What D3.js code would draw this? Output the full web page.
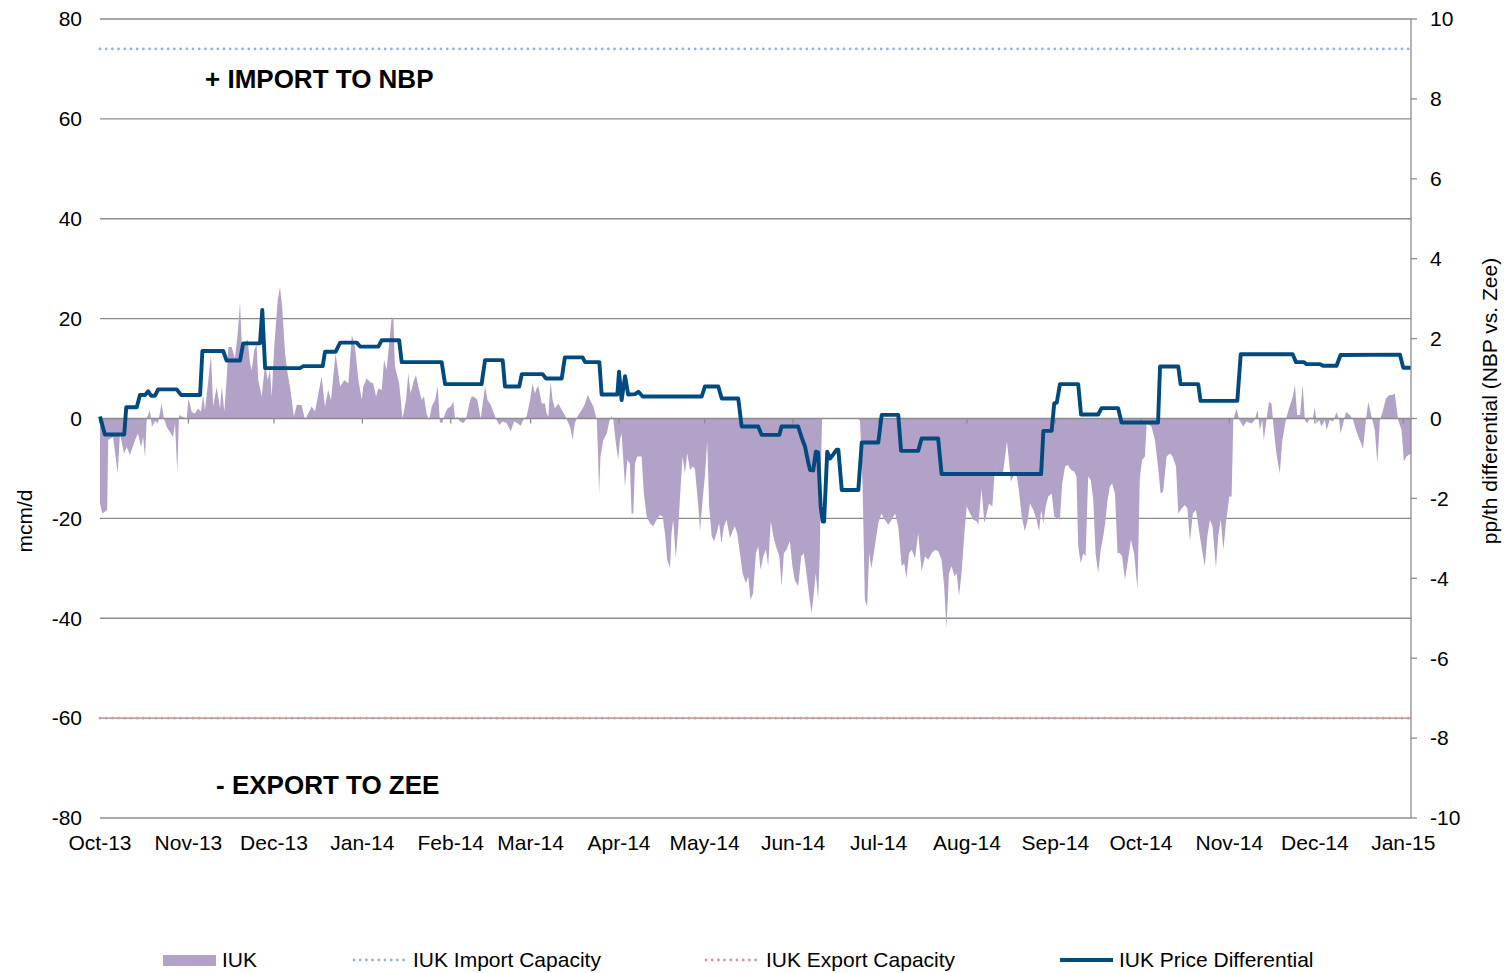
<!DOCTYPE html>
<html>
<head>
<meta charset="utf-8">
<script src="https://cdnjs.cloudflare.com/ajax/libs/d3/7.8.5/d3.min.js"></script>
<style>
  body { margin: 0; background: #fff; }
  svg { display: block; font-family: "Liberation Sans", Arial, sans-serif; }
</style>
</head>
<body>
<svg width="1506" height="973"></svg>
<script>
// days counted from 1 Oct 2013
const startDate = Date.UTC(2013, 9, 1);
const lastDay = 459.7;

const mcmTicks = [-80, -60, -40, -20, 0, 20, 40, 60, 80];
const penceTicks = [-10, -8, -6, -4, -2, 0, 2, 4, 6, 8, 10];

const importCapacity = 74;
const exportCapacity = -60;

// IUK flow, mcm/d: [day, value]
const flowPoints = [
  [0,-17],[0.8,-19],[2.5,-18.3],[2.9,-4.3],[4.6,-3.7],[6.2,-11],[7,-3],[8.4,-7],[9.4,-5.7],[10.5,-7.3],
  [12.3,-4.3],[13.3,-3],[14.4,-5.7],[15.1,-3.7],[15.8,-7.7],[16.4,0],[17.5,1.7],[18.2,-1.7],[19.3,-0.5],[20.3,-1],
  [21.6,3],[22.4,0],[23.4,-1.7],[24.5,-2.7],[25.6,-3.7],[26.3,-1],[27.1,-10.7],[27.7,0.7],[28.6,0.4],[30.4,0],
  [31,4],[32.2,1.3],[33.3,1],[34.4,2],[35.4,1.4],[36.2,4.7],[36.8,1.7],[38,7.7],[38.9,12.7],[39.7,2.4],
  [40.9,6.3],[42.1,2],[42.7,6.3],[43.6,1.4],[44.4,7.7],[45,14.3],[46.2,14.3],[47.3,12],[48.3,17],[49.1,23.3],
  [49.7,15],[50.8,15.3],[51.8,15.7],[52.6,11],[53.2,9.7],[54.1,13.7],[54.9,14.7],[55.5,7.7],[56.7,4.4],[57.9,11],
  [58.8,7.7],[59.6,9.7],[60.2,4.4],[61.1,14.3],[62.3,23.7],[63.1,26.3],[63.9,22.3],[64.9,13],[65.8,9],[66.6,6.4],
  [68,0.4],[69,2.7],[70.7,2.7],[71.9,-0.3],[74.2,2.4],[75.4,1.4],[77.7,8.4],[78.9,2.4],[80,5.7],[81,3.7],
  [82.6,13],[84.2,6.4],[85.7,7.7],[87.1,7],[88.3,16.7],[89.4,14.4],[90.6,7.7],[91.8,3.7],
  [92.3,6.4],[93.5,8],[94.7,7.3],[95.8,7],[96.8,4.4],[97.6,6],[98.8,5.7],[99.6,11.7],[100.5,9.7],[101.5,15.7],
  [102.3,20.4],[102.9,19.7],[103.4,10.4],[104.3,8.4],[104.9,7],[106.1,0],[107.3,3.7],[108.1,9],[108.9,5],[109.9,7.3],
  [110.8,8.7],[111.6,6.4],[112.8,3.7],[113.6,4.4],[114.5,1],[115.4,-0.4],[116.3,2.4],[117.5,3.7],[118.4,6.5],[119.2,-0.8],
  [120,-0.9],[121,1],[121.8,2],[123,2.4],[123.9,3.4],[124.5,-0.2],[125.3,0.4],[126.2,-0.6],[127.4,-0.9],[128.3,-0.2],
  [129.5,3],[130.3,4.4],[131.5,4.2],[132.3,3.7],[133.5,0],[135,6.4],[135.9,3.7],[137,2.7],[137.9,1.4],[138.8,0],
  [140,-1.3],[141.2,-0.6],[142.6,-0.9],[144,-2.6],[145.2,-0.6],[146.3,-0.9],[147.5,-1.5],[148.4,-0.3],[149.6,0.4],[150.8,3.7],
  [151.7,7],[152.5,5],[153.1,6],[153.7,6.5],[154.9,3],[156,3],[156.6,1],[157.2,0.4],[158,7.3],[158.7,3.7],
  [159.5,2],[160.7,3],[161.9,1.7],[163,0.7],[164.2,-0.9],[165,-2],[165.7,-4.3],[166.5,-0.9],[167.7,0.7],[168.9,1.7],
  [170.1,3],[171,4.7],[172.1,3.4],[173,2.4],[174.2,-0.3],[174.7,-8.3],[175,-15],[175.5,-7.6],[176.5,-4.3],[177.7,-3],
  [178.6,-0.6],[179.4,0.5],[180,-0.3],[180.9,-5],[181.7,-8.3],
  [182.3,-4.3],[182.9,-3],[184.1,-13.6],[184.9,-8.3],[185.8,-9],[186.4,-19],[187,-19],[187.6,-9],[188.4,-7.6],[189.9,-7.6],
  [190.7,-15],[191.7,-19.6],[192.8,-21],[194,-21.6],[195.2,-20.3],[196.3,-19.3],[197.3,-19.6],[198.1,-23],[198.9,-28.3],[199.9,-30],
  [200.4,-23],[201,-20.3],[201.9,-28],[202.8,-21.6],[203.6,-13.6],[204.3,-7.6],[205.1,-11],[205.9,-7],[206.9,-10.3],[207.8,-9.6],
  [208.6,-10],[209.8,-17.6],[210.4,-22.6],[211.3,-16.3],[212.1,-11.6],[212.9,-4.6],[213.6,-17.6],[214.5,-23.6],[215.3,-24.6],[216.2,-23],
  [217.1,-21],[217.9,-25],[218.8,-21.6],[219.7,-20.3],[220.9,-24],[221.8,-22.6],[222.6,-21.6],[223.4,-23],[224.4,-27],[225.3,-31],
  [226.5,-33],[227.3,-31.6],[228.1,-36.3],[229,-35],[230,-27],[230.8,-25.6],[231.6,-30.3],[232.6,-27.6],[233.5,-26.3],[234.3,-29.6],
  [235.2,-20.6],[236.1,-23.6],[237,-25.6],[238.2,-27.6],[239,-33.6],[239.8,-27],[240.7,-26.3],[241.9,-24.6],[242.8,-29.6],[243.6,-32.3],
  [244.8,-33.6],[245.9,-27.6],[246.8,-27],[247.7,-31],[248.7,-35.6],[249.5,-39],[250.3,-35],[251,-31],[251.8,-36.3],[252.4,-27],
  [252.8,-10],[253.2,0],[266,0],[266.5,-0.5],[267.4,-13.6],[268.2,-36.3],[269,-37.6],[269.7,-27],[270.5,-30],[271.7,-25.6],
  [272.9,-21],[274,-19],
  [275.2,-20.3],[276.4,-21.3],[277.6,-20.3],[278.8,-19],[279.9,-21.6],[281.1,-29.6],[282,-29],[282.8,-32],[283.7,-27],[284.6,-26.3],
  [285.8,-28],[286.9,-23],[288.1,-30.6],[289.3,-27.6],[290.4,-28.3],[291.6,-27],[292.8,-26.3],[293.9,-26.6],[295.1,-28.3],[296,-33.6],
  [296.8,-42],[297.7,-31],[298.6,-29.6],[299.6,-31.6],[300.4,-31],[301.2,-35.6],[302.1,-31],[303.1,-23],[303.9,-17.6],[305.1,-19],
  [306.2,-20.3],[307.4,-20.6],[308,-21.3],[309.1,-14],[310.1,-21],[310.9,-19],[311.7,-17],[312.9,-17.6],[313.6,-11.6],[314.4,-10.6],
  [315.6,-11],[316.7,-10.6],[317.6,-6.6],[318,-4.6],[318.7,-8.3],[319.4,-12.6],[320.2,-11.6],[321.4,-11.3],[322.2,-14.3],[323.2,-19.6],
  [324.3,-22.6],[325.3,-20.3],[326.1,-17],[327.3,-18.3],[328.4,-20.3],[329.3,-22.6],[330,-18.3],[330.8,-21],[331.6,-17.6],[332.5,-15.6],
  [333.7,-15],[334.6,-19.6],[335.8,-20],[336.6,-20.3],[337.4,-13],[338.4,-9.6],[339.3,-9.3],[340.5,-10.3],[341.6,-10.6],[342.4,-11.6],
  [343,-25.6],[343.9,-29],[344.8,-27],[345.6,-27.6],[346.5,-11.6],[347.4,-12.3],[348.3,-16.3],[349.1,-27],[350,-31],[350.9,-26.3],
  [351.8,-23.6],[352.6,-20.3],[353.3,-16.3],[354.1,-13.6],[354.9,-13],[355.9,-15],[356.8,-27],[357.6,-27],[358.4,-27.6],[359.4,-32.3],
  [360.3,-29],[361.5,-24.3],[362.6,-27],[363.8,-34.3],[364.6,-12],[365.4,-8.3],[366.4,-7.6],[367,-1],[368.7,-1.6],[369.9,-4.3],
  [371,-9.6],[371.9,-15],[372.8,-14.6],[374,-7.6],[375.2,-7],[376.1,-7.6],[377.3,-9.6],[378.1,-19],[379.3,-18],[380.4,-17.3],
  [381.3,-18],[382.2,-24.6],[383.2,-19],[384.3,-18.3],[385.5,-23],[386.6,-27],[387.4,-29.6],[388.3,-23.6],[389.2,-20.3],[390.1,-21.6],
  [391.3,-30],[392.1,-23.6],[393,-20.3],[393.9,-26.3],[394.8,-21],[396,-15.6],[396.8,-15.6],[397.4,-0.3],[398.5,2],[399.5,-0.3],
  [400.9,-1.6],[402,-0.6],[403.8,-1],[404.9,-0.3],[405.9,1.7],[406.7,-2.3],[407.5,-0.3],[408.1,-4.3],[409,-0.3],[409.9,3.3],
  [410.8,3],[411.6,-2.3],[412.5,-7],[413.7,-11],[414.6,-4.3],[415.8,-0.3],[416.9,2],[418.2,4.3],[419,6.7],[419.8,0.7],
  [420.8,0.7],[421.7,6.7],[422.5,-0.3],[423.3,-1],[424.3,0.3],[425.2,-0.3],[426,2.3],[426.6,-1],[427.5,-0.3],[428.3,-1.6],
  [429.5,-0.3],[430.1,-2.3],[431.2,-0.3],[432.4,-0.6],[433.6,1.3],[434.5,-0.3],[435,-3],[435.9,-1],[436.9,1.3],[438.3,0.7],
  [439.4,-0.3],[440.4,-2.3],[441.5,-4],[442.9,-6],[443.9,-0.3],[444.7,3.3],[445.9,0.3],[447,-2.3],[447.9,-9],[448.8,-0.3],
  [449.7,1.3],[450.9,4],[452.1,4.7],[453.2,4.7],[454,5],[455.2,-0.3],[456.4,-2.3],[457.2,-8.6],[458.1,-7.6],[459.7,-7]
];

// IUK price differential, pp/th (NBP vs. Zee): [day, value]
const diffPoints = [
  [0,0.05],[1.7,-0.4],[8.5,-0.4],[9.2,0.28],[12.9,0.28],[14,0.59],[15.8,0.59],[16.9,0.68],[17.9,0.57],[19.3,0.57],
  [20.4,0.73],[26.9,0.73],[28.4,0.59],[35.1,0.59],[35.9,1.69],[43.2,1.69],[44.4,1.45],[49.1,1.45],[50.2,1.88],[56.1,1.88],
  [56.9,2.72],[57.9,1.26],[70.1,1.26],[71.3,1.31],[78.1,1.31],[78.9,1.67],[82.6,1.67],[84.2,1.9],[90,1.9],[91.2,1.8],
  [97.6,1.8],[98.8,1.96],[104.9,1.96],[105.8,1.41],[119.8,1.41],[121,0.86],[133.8,0.86],[135,1.46],[141.2,1.46],[142,0.8],
  [147,0.8],[147.9,1.11],[155.2,1.11],[156.4,1.0],[161.9,1.0],[163,1.53],[169.2,1.53],[170.1,1.41],[175.1,1.41],[175.9,0.6],
  [181.4,0.6],[182,1.17],[182.9,0.46],[184.1,1.06],[185.2,0.6],[187.6,0.61],[188.8,0.67],[190.3,0.55],[211,0.55],[212.1,0.8],
  [216.8,0.8],[218,0.5],[223.8,0.5],[225,-0.2],[230.8,-0.2],[232,-0.41],[238.2,-0.41],[239,-0.2],[244.8,-0.2],[246,-0.47],
  [247.2,-0.7],[248.4,-1.12],[249,-1.29],[250.1,-1.3],[251,-0.83],[251.8,-0.85],[252.7,-2.2],[253.4,-2.58],[253.9,-2.58],[255,-0.83],
  [256,-1.0],[257.1,-0.9],[258.3,-0.78],[258.9,-0.78],[260.1,-1.79],[265.9,-1.79],[267.1,-0.6],[272.9,-0.6],[274.1,0.09],[279.9,0.09],
  [280.9,-0.81],[286.9,-0.81],[288.1,-0.5],[293.9,-0.5],[295.1,-1.39],[330,-1.39],[330.8,-0.31],[333.7,-0.31],[334.6,0.38],[335.5,0.4],
  [336.6,0.86],[343,0.86],[344,0.1],[350,0.1],[351.2,0.26],[357,0.26],[358.2,-0.1],[371,-0.1],[371.7,1.3],[378.1,1.3],
  [378.9,0.86],[385.1,0.86],[385.9,0.44],[398.8,0.44],[400,1.61],[418.2,1.61],[419.4,1.41],[422.2,1.41],[423.1,1.36],[427.8,1.36],
  [428.9,1.32],[433.6,1.32],[435,1.59],[455.8,1.6],[457,1.27],[459.7,1.27]
];

const dayToDate = d => new Date(startDate + d * 864e5);

const svg = d3.select("svg");
const plotLeft = 100, plotRight = 1411, plotTop = 19, plotBottom = 818;

const x = d3.scaleUtc()
  .domain([dayToDate(0), dayToDate(lastDay)])
  .range([plotLeft, plotRight]);
const y = d3.scaleLinear().domain([-80, 80]).range([plotBottom, plotTop]);
const y2 = d3.scaleLinear().domain([-10, 10]).range([plotBottom, plotTop]);

const gridColor = "#8c8c8c";

// gridlines
svg.append("g")
  .selectAll("line")
  .data(mcmTicks.filter(d => d !== 0))
  .enter().append("line")
  .attr("x1", plotLeft).attr("x2", plotRight)
  .attr("y1", d => y(d)).attr("y2", d => y(d))
  .attr("stroke", gridColor)
  .attr("stroke-width", 1.3);

// IUK flow area
const area = d3.area()
  .x(d => x(dayToDate(d[0])))
  .y0(y(0))
  .y1(d => y(d[1]));

svg.append("path")
  .datum(flowPoints)
  .attr("fill", "#b3a2c7")
  .attr("d", area);

// capacity lines
const capLine = (value, color) => svg.append("line")
  .attr("x1", plotLeft).attr("x2", plotRight)
  .attr("y1", y(value)).attr("y2", y(value))
  .attr("stroke", color)
  .attr("stroke-width", 2.8)
  .attr("stroke-linecap", "round")
  .attr("stroke-dasharray", "0 6.2");

capLine(importCapacity, "#95b3d7");
capLine(exportCapacity, "#d99694");

// zero axis with month ticks
svg.append("line")
  .attr("x1", plotLeft).attr("x2", plotRight)
  .attr("y1", y(0)).attr("y2", y(0))
  .attr("stroke", gridColor)
  .attr("stroke-width", 1.6);

const months = x.ticks(d3.utcMonth.every(1));

svg.append("g")
  .selectAll("line")
  .data(months)
  .enter().append("line")
  .attr("x1", d => x(d)).attr("x2", d => x(d))
  .attr("y1", y(0)).attr("y2", y(0) + 5)
  .attr("stroke", gridColor)
  .attr("stroke-width", 1.3);

// price differential
const line = d3.line()
  .x(d => x(dayToDate(d[0])))
  .y(d => y2(d[1]));

svg.append("path")
  .datum(diffPoints)
  .attr("fill", "none")
  .attr("stroke", "#004a7f")
  .attr("stroke-width", 3.9)
  .attr("stroke-linejoin", "round")
  .attr("d", line);

// right axis
svg.append("line")
  .attr("x1", plotRight).attr("x2", plotRight)
  .attr("y1", plotTop).attr("y2", plotBottom)
  .attr("stroke", gridColor)
  .attr("stroke-width", 1.3);

svg.append("g")
  .selectAll("line")
  .data(penceTicks)
  .enter().append("line")
  .attr("x1", plotRight).attr("x2", plotRight + 6)
  .attr("y1", d => y2(d)).attr("y2", d => y2(d))
  .attr("stroke", gridColor)
  .attr("stroke-width", 1.3);

const fontSize = 21;

svg.append("g")
  .selectAll("text")
  .data(penceTicks)
  .enter().append("text")
  .attr("x", plotRight + 19)
  .attr("y", d => y2(d))
  .attr("dy", "0.35em")
  .attr("font-size", fontSize)
  .text(d => d);

// left labels
svg.append("g")
  .selectAll("text")
  .data(mcmTicks)
  .enter().append("text")
  .attr("x", 82)
  .attr("y", d => y(d))
  .attr("dy", "0.35em")
  .attr("text-anchor", "end")
  .attr("font-size", fontSize)
  .text(d => d);

// month labels
const fmt = d3.utcFormat("%b-%y");
svg.append("g")
  .selectAll("text")
  .data(months)
  .enter().append("text")
  .attr("x", d => x(d))
  .attr("y", 843)
  .attr("dy", "0.35em")
  .attr("text-anchor", "middle")
  .attr("font-size", fontSize)
  .text(d => fmt(d));

// axis titles
svg.append("text")
  .attr("transform", "translate(25,521) rotate(-90)")
  .attr("text-anchor", "middle")
  .attr("dy", "0.35em")
  .attr("font-size", fontSize)
  .text("mcm/d");

svg.append("text")
  .attr("transform", "translate(1490,401) rotate(-90)")
  .attr("text-anchor", "middle")
  .attr("dy", "0.35em")
  .attr("font-size", fontSize)
  .text("pp/th differential (NBP vs. Zee)");

// annotations
svg.append("text")
  .attr("x", 205).attr("y", 79).attr("dy", "0.35em")
  .attr("font-size", 26).attr("font-weight", "bold")
  .text("+ IMPORT TO NBP");

svg.append("text")
  .attr("x", 216).attr("y", 785).attr("dy", "0.35em")
  .attr("font-size", 26).attr("font-weight", "bold")
  .text("- EXPORT TO ZEE");

// legend
const legendY = 960;
const legend = svg.append("g");

legend.append("rect")
  .attr("x", 163).attr("y", legendY - 5)
  .attr("width", 53).attr("height", 11)
  .attr("fill", "#b3a2c7");

legend.append("line")
  .attr("x1", 354).attr("x2", 405)
  .attr("y1", legendY).attr("y2", legendY)
  .attr("stroke", "#95b3d7").attr("stroke-width", 2.8)
  .attr("stroke-linecap", "round").attr("stroke-dasharray", "0 6.2");

legend.append("line")
  .attr("x1", 706).attr("x2", 757)
  .attr("y1", legendY).attr("y2", legendY)
  .attr("stroke", "#d99694").attr("stroke-width", 2.8)
  .attr("stroke-linecap", "round").attr("stroke-dasharray", "0 6.2");

legend.append("line")
  .attr("x1", 1060).attr("x2", 1113)
  .attr("y1", legendY).attr("y2", legendY)
  .attr("stroke", "#004a7f").attr("stroke-width", 4);

const legendLabels = [
  ["IUK", 222],
  ["IUK Import Capacity", 413],
  ["IUK Export Capacity", 766],
  ["IUK Price Differential", 1119]
];

legend.selectAll("text")
  .data(legendLabels)
  .enter().append("text")
  .attr("x", d => d[1])
  .attr("y", legendY)
  .attr("dy", "0.35em")
  .attr("font-size", fontSize)
  .text(d => d[0]);
</script>
</body>
</html>
